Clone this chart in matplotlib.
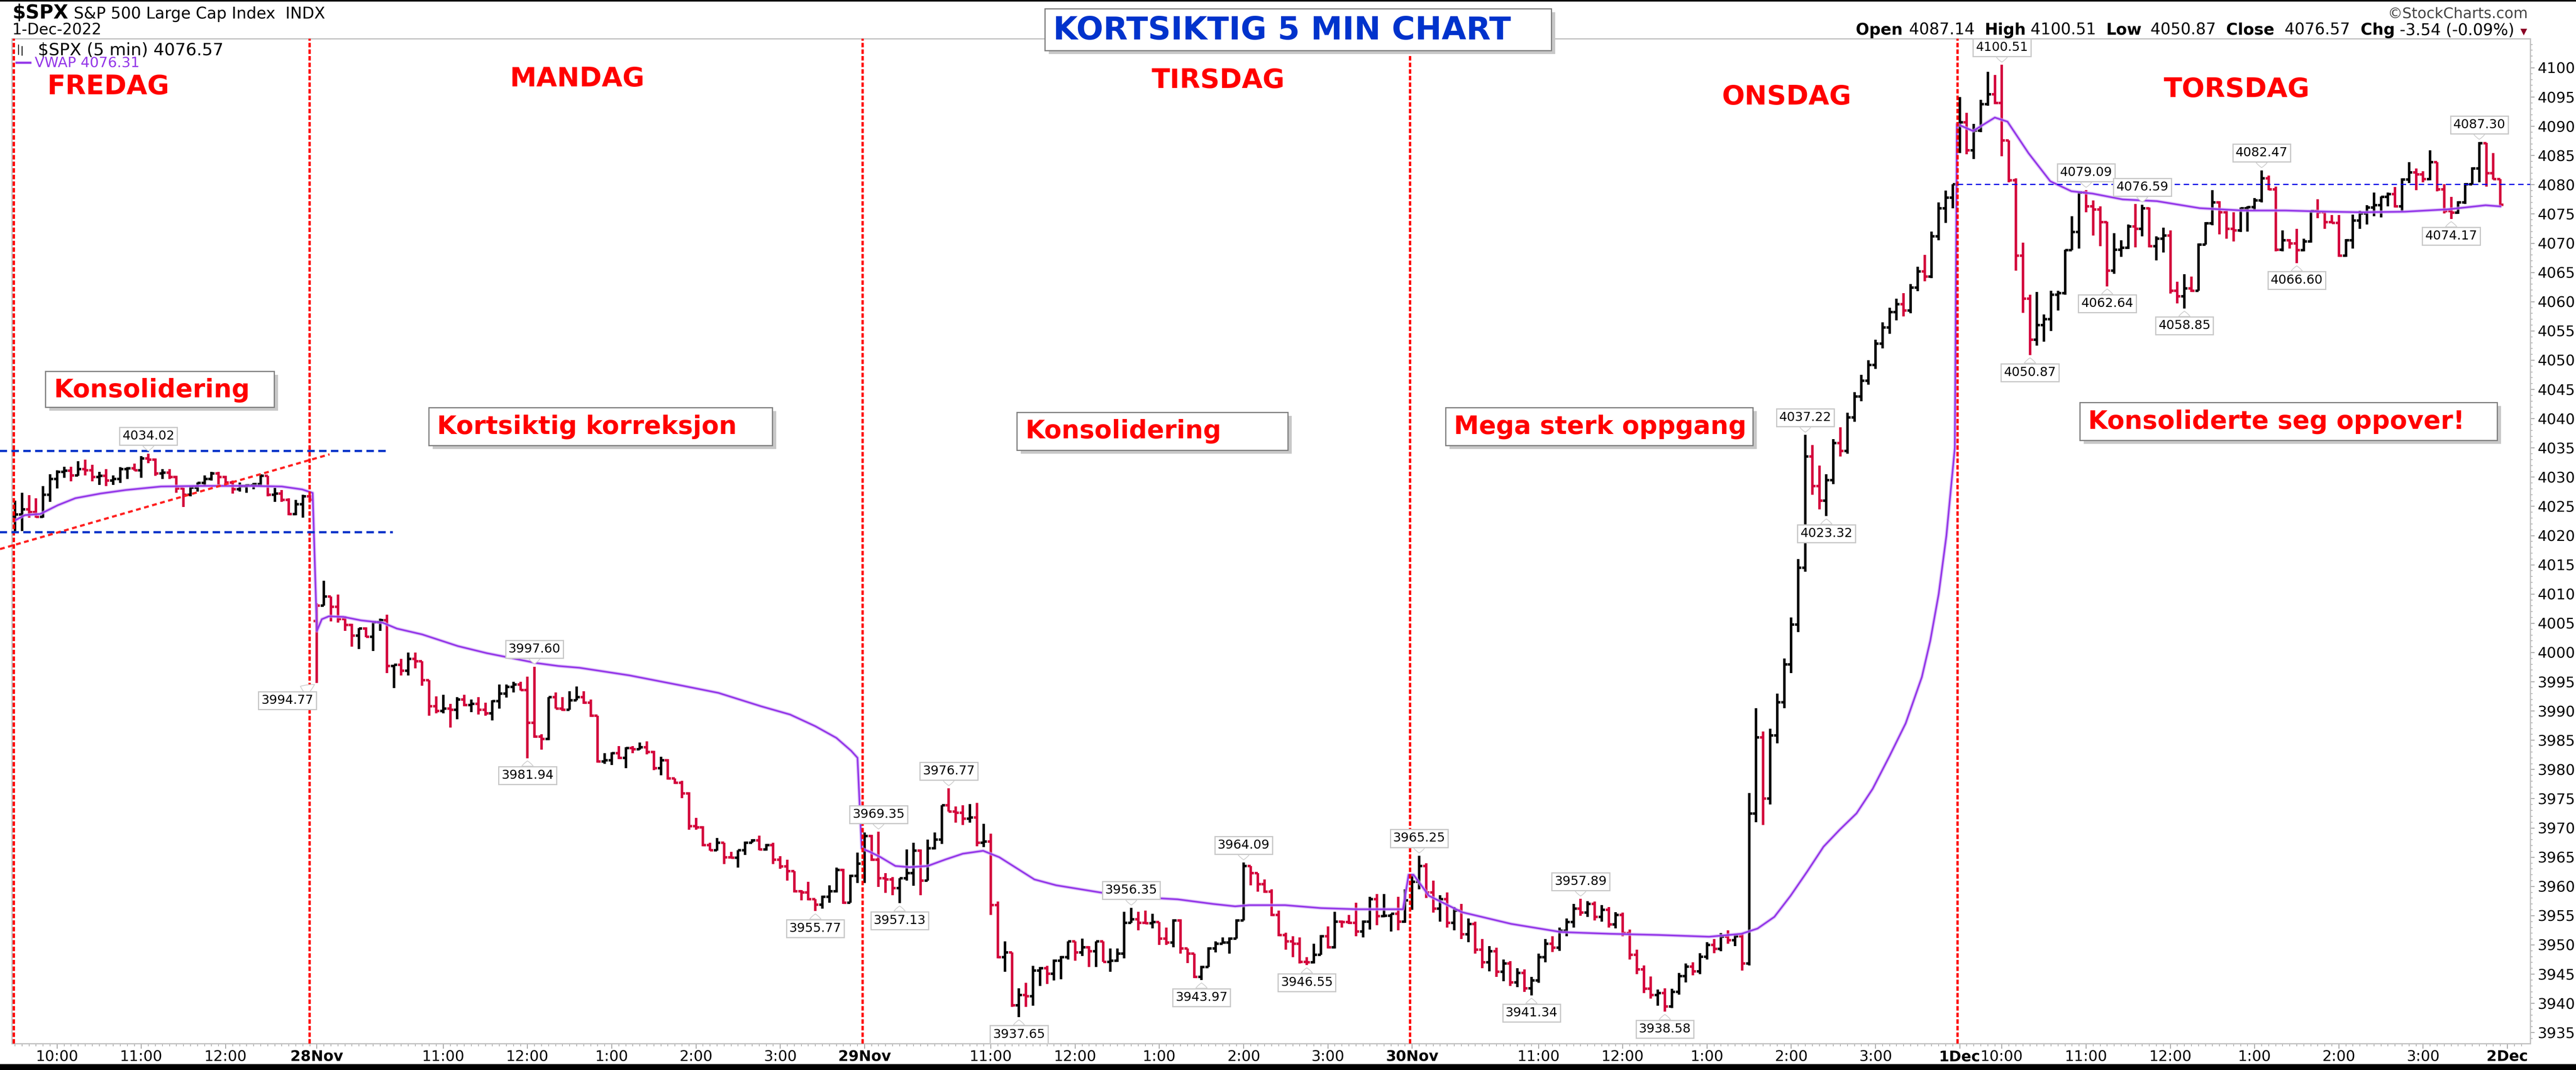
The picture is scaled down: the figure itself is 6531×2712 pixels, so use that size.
import matplotlib
matplotlib.use("Agg")
import matplotlib.pyplot as plt
from matplotlib.collections import LineCollection
from matplotlib.patches import Rectangle
from matplotlib.lines import Line2D
from matplotlib.ticker import FixedLocator, MultipleLocator, FormatStrFormatter

W, H = 6531, 2712

''' 5 min OHLC bars, one set of lists per day '''
# Friday 25 Nov (half day)
fri_o = [4023.3, 4023.6, 4024.5, 4024.0, 4023.2, 4027.0, 4029.7, 4030.9, 4031.1, 4030.3, 4031.4, 4031.2, 4030.0, 4030.2, 4029.4,
         4029.7, 4031.4, 4031.5, 4031.2, 4033.2, 4033.0, 4030.6, 4030.8, 4030.0, 4028.1, 4027.0, 4028.2, 4029.0, 4029.7, 4030.6,
         4030.0, 4029.1, 4027.9, 4028.5, 4028.6, 4028.8, 4030.2, 4027.0, 4027.2, 4026.1, 4023.7, 4025.4, 4026.7]
fri_h = [4026.0, 4027.3, 4026.9, 4026.4, 4028.5, 4030.5, 4031.2, 4031.8, 4031.8, 4032.7, 4033.0, 4032.1, 4030.9, 4031.4, 4030.3,
         4031.7, 4031.7, 4032.3, 4033.6, 4034.02, 4033.2, 4031.4, 4031.4, 4030.2, 4028.2, 4028.5, 4029.1, 4030.3, 4030.9, 4030.9,
         4030.2, 4029.4, 4029.1, 4028.8, 4029.0, 4030.5, 4030.2, 4028.2, 4027.8, 4026.4, 4026.1, 4027.0, 4026.9]
fri_l = [4020.76, 4020.8, 4023.1, 4023.1, 4023.1, 4025.8, 4028.1, 4029.9, 4029.3, 4030.2, 4030.3, 4029.3, 4028.7, 4028.5, 4028.7,
         4029.0, 4029.7, 4031.1, 4029.9, 4032.4, 4030.2, 4029.7, 4029.7, 4027.3, 4024.9, 4026.7, 4027.5, 4028.5, 4029.4, 4028.5,
         4028.5, 4027.2, 4027.5, 4027.3, 4027.9, 4028.5, 4026.7, 4025.8, 4025.8, 4023.5, 4023.5, 4023.1, 4026.1]
fri_c = [4023.6, 4024.5, 4024.0, 4023.2, 4027.0, 4029.7, 4030.9, 4031.1, 4030.3, 4031.4, 4031.2, 4030.0, 4030.2, 4029.4, 4029.7,
         4031.4, 4031.5, 4031.2, 4033.2, 4033.0, 4030.6, 4030.8, 4030.0, 4028.1, 4027.0, 4028.2, 4029.0, 4029.7, 4030.6, 4030.0,
         4029.1, 4027.9, 4028.5, 4028.6, 4028.8, 4030.2, 4027.0, 4027.2, 4026.1, 4023.7, 4025.4, 4026.7, 4026.1]

# Monday 28 Nov
mon_o = [4005.4, 4008.0, 4009.6, 4007.8, 4005.7, 4004.7, 4002.9, 4004.1, 4002.7, 4005.2, 4005.5, 3997.7, 3997.9, 3996.9, 3998.9,
         3998.5, 3995.3, 3990.8, 3990.0, 3990.4, 3990.2, 3992.0, 3991.0, 3991.2, 3990.2, 3989.6, 3991.7, 3993.0, 3994.1, 3994.5,
         3993.6, 3988.0, 3985.6, 3985.2, 3992.4, 3990.4, 3990.2, 3991.8, 3992.4, 3991.4, 3989.2, 3981.4, 3981.6, 3982.8, 3982.0,
         3983.7, 3983.5, 3983.8, 3983.0, 3980.2, 3981.6, 3978.5, 3977.7, 3975.9, 3970.3, 3970.1, 3967.1, 3966.2, 3967.5, 3965.0,
         3964.9, 3966.2, 3967.5, 3967.9, 3966.3, 3967.1, 3964.6, 3963.4, 3962.6, 3959.2, 3959.0, 3957.8, 3956.9, 3958.2, 3959.2,
         3962.8, 3957.2, 3961.8]
mon_h = [4008.4, 4012.3, 4009.6, 4009.9, 4006.2, 4004.9, 4004.2, 4004.3, 4005.3, 4005.8, 4006.5, 3997.9, 3998.9, 4000.0, 4000.0,
         3998.5, 3995.3, 3992.5, 3992.8, 3991.2, 3992.4, 3992.8, 3992.0, 3992.4, 3991.4, 3991.8, 3994.5, 3994.5, 3995.0, 3995.0,
         3995.9, 3997.6, 3986.0, 3992.4, 3993.2, 3992.4, 3993.4, 3994.2, 3993.4, 3992.0, 3989.2, 3982.8, 3982.9, 3984.0, 3983.8,
         3984.0, 3984.6, 3984.8, 3983.2, 3982.2, 3981.8, 3978.5, 3978.1, 3976.1, 3971.7, 3970.3, 3967.5, 3968.3, 3967.5, 3965.9,
         3966.2, 3967.7, 3968.1, 3968.7, 3967.3, 3967.5, 3965.2, 3964.6, 3962.6, 3959.4, 3960.8, 3957.8, 3958.4, 3960.2, 3963.2,
         3963.0, 3962.0, 3965.8]
mon_l = [3994.77, 4008.0, 4005.3, 4005.1, 4003.7, 4001.0, 4000.6, 4002.6, 4000.3, 4003.7, 3996.5, 3993.9, 3996.1, 3996.1, 3997.3,
         3994.3, 3989.2, 3989.6, 3989.6, 3987.2, 3988.6, 3990.8, 3989.8, 3989.4, 3989.2, 3988.4, 3990.4, 3992.3, 3993.2, 3993.5,
         3981.94, 3985.4, 3983.4, 3985.0, 3990.4, 3990.0, 3990.2, 3991.8, 3991.2, 3989.0, 3981.2, 3981.0, 3980.8, 3981.8, 3980.2,
         3982.8, 3983.4, 3982.6, 3979.9, 3979.0, 3978.3, 3977.5, 3975.1, 3969.7, 3969.7, 3966.9, 3966.1, 3966.1, 3963.8, 3964.8,
         3963.2, 3965.4, 3967.5, 3966.2, 3966.1, 3963.8, 3963.0, 3961.0, 3959.0, 3957.6, 3957.6, 3955.77, 3956.2, 3957.2, 3959.0,
         3957.0, 3957.2, 3960.6]
mon_c = [4008.0, 4009.6, 4007.8, 4005.7, 4004.7, 4002.9, 4004.1, 4002.7, 4005.2, 4005.5, 3997.7, 3997.9, 3996.9, 3998.9, 3998.5,
         3995.3, 3990.8, 3990.0, 3990.4, 3990.2, 3992.0, 3991.0, 3991.2, 3990.2, 3989.6, 3991.7, 3993.0, 3994.1, 3994.5, 3993.6,
         3988.0, 3985.6, 3985.2, 3992.4, 3990.4, 3990.2, 3991.8, 3992.4, 3991.4, 3989.2, 3981.4, 3981.6, 3982.8, 3982.0, 3983.7,
         3983.5, 3983.8, 3983.0, 3980.2, 3981.6, 3978.5, 3977.7, 3975.9, 3970.3, 3970.1, 3967.1, 3966.2, 3967.5, 3965.0, 3964.9,
         3966.2, 3967.5, 3967.9, 3966.3, 3967.1, 3964.6, 3963.4, 3962.6, 3959.2, 3959.0, 3957.8, 3956.9, 3958.2, 3959.2, 3962.8,
         3957.2, 3961.8, 3963.9]

# Tuesday 29 Nov
tue_o = [3964.2, 3968.6, 3964.6, 3961.4, 3961.2, 3959.7, 3961.4, 3962.3, 3966.1, 3961.0, 3966.5, 3968.0, 3973.9, 3972.8, 3972.6,
         3971.6, 3971.8, 3967.5, 3967.7, 3956.8, 3947.9, 3948.7, 3939.7, 3941.4, 3941.2, 3945.6, 3946.0, 3945.1, 3947.3, 3947.9,
         3950.6, 3948.7, 3949.6, 3948.9, 3950.6, 3947.1, 3947.3, 3948.5, 3953.8, 3954.4, 3953.8, 3953.7, 3953.9, 3951.1, 3950.4,
         3954.2, 3949.4, 3948.5, 3944.5, 3946.2, 3949.4, 3950.2, 3950.4, 3951.1, 3954.2, 3963.5, 3962.3, 3960.4, 3959.1, 3955.1,
         3951.7, 3950.6, 3950.2, 3947.1, 3947.0, 3948.3, 3951.5, 3949.6, 3954.0, 3953.9, 3953.8, 3952.3, 3954.0, 3957.8, 3954.9,
         3955.0, 3955.3, 3954.0]
tue_h = [3969.2, 3968.8, 3969.35, 3962.3, 3961.6, 3961.4, 3966.3, 3967.5, 3966.3, 3968.0, 3969.2, 3973.9, 3976.77, 3973.7, 3973.9,
         3974.1, 3974.3, 3970.7, 3969.0, 3957.4, 3950.6, 3948.7, 3942.6, 3943.5, 3946.4, 3946.2, 3946.4, 3947.5, 3948.1, 3950.6,
         3950.6, 3951.1, 3949.8, 3950.6, 3950.6, 3949.4, 3949.4, 3955.7, 3956.35, 3955.7, 3955.9, 3955.3, 3953.9, 3953.0, 3954.4,
         3954.4, 3949.4, 3948.5, 3946.4, 3949.6, 3950.6, 3951.3, 3951.3, 3954.4, 3964.09, 3963.5, 3962.3, 3961.2, 3959.5, 3955.9,
         3952.1, 3951.5, 3951.3, 3947.9, 3950.2, 3951.7, 3953.2, 3955.7, 3954.2, 3955.1, 3957.2, 3954.2, 3958.2, 3958.7, 3958.7,
         3955.3, 3958.2, 3959.5]
tue_l = [3960.6, 3964.4, 3959.9, 3958.9, 3958.5, 3957.13, 3961.0, 3960.1, 3958.5, 3961.0, 3966.3, 3967.3, 3972.8, 3970.9, 3970.5,
         3970.9, 3966.9, 3966.7, 3955.1, 3947.7, 3945.4, 3939.4, 3937.65, 3939.4, 3939.6, 3943.0, 3943.3, 3943.9, 3944.1, 3947.5,
         3947.3, 3948.1, 3946.2, 3946.2, 3947.1, 3945.4, 3947.1, 3947.7, 3953.8, 3952.5, 3953.6, 3952.8, 3950.0, 3950.0, 3949.6,
         3948.5, 3946.9, 3944.3, 3943.97, 3946.2, 3948.7, 3950.2, 3948.5, 3951.1, 3954.2, 3960.2, 3959.1, 3958.9, 3954.9, 3951.5,
         3949.2, 3947.9, 3946.8, 3946.55, 3946.8, 3948.3, 3949.4, 3949.4, 3953.0, 3953.6, 3951.5, 3951.3, 3952.6, 3953.4, 3954.7,
         3952.3, 3952.5, 3953.8]
tue_c = [3968.6, 3964.6, 3961.4, 3961.2, 3959.7, 3961.4, 3962.3, 3966.1, 3961.0, 3966.5, 3968.0, 3973.9, 3972.8, 3972.6, 3971.6,
         3971.8, 3967.5, 3967.7, 3956.8, 3947.9, 3948.7, 3939.7, 3941.4, 3941.2, 3945.6, 3946.0, 3945.1, 3947.3, 3947.9, 3950.6,
         3948.7, 3949.6, 3948.9, 3950.6, 3947.1, 3947.3, 3948.5, 3953.8, 3954.4, 3953.8, 3953.7, 3953.9, 3951.1, 3950.4, 3954.2,
         3949.4, 3948.5, 3944.5, 3946.2, 3949.4, 3950.2, 3950.4, 3951.1, 3954.2, 3963.5, 3962.3, 3960.4, 3959.1, 3955.1, 3951.7,
         3950.6, 3950.2, 3947.1, 3947.0, 3948.3, 3951.5, 3949.6, 3954.0, 3953.9, 3953.8, 3952.3, 3954.0, 3957.8, 3954.9, 3955.0,
         3955.3, 3954.0, 3957.6]

# Wednesday 30 Nov
wed_o = [3957.2, 3960.8, 3963.5, 3959.0, 3956.2, 3957.8, 3953.8, 3955.9, 3951.8, 3953.6, 3949.2, 3947.0, 3948.9, 3945.4, 3946.8,
         3943.6, 3945.2, 3942.6, 3943.9, 3947.9, 3950.2, 3949.5, 3952.4, 3953.9, 3956.2, 3955.5, 3957.0, 3954.8, 3956.0, 3953.5,
         3955.1, 3952.0, 3948.3, 3945.8, 3942.5, 3941.4, 3941.8, 3939.5, 3942.0, 3944.7, 3946.3, 3945.5, 3948.0, 3950.0, 3949.3,
         3951.4, 3950.8, 3951.5, 3946.8, 3972.5, 3985.5, 3975.0, 3985.8, 3991.5, 3998.0, 4004.8, 4014.5, 4033.5, 4028.5, 4026.0,
         4029.5, 4035.8, 4034.5, 4040.2, 4043.8, 4046.5, 4049.2, 4052.8, 4055.6, 4058.2, 4059.6, 4058.5, 4062.4, 4065.2, 4064.3,
         4071.2, 4076.0, 4077.8]
wed_h = [3962.0, 3965.25, 3964.0, 3961.0, 3958.5, 3959.0, 3956.5, 3957.0, 3954.5, 3954.0, 3951.0, 3949.8, 3949.5, 3947.5, 3947.2,
         3946.0, 3945.8, 3944.5, 3948.5, 3951.0, 3951.5, 3953.0, 3954.5, 3957.0, 3957.89, 3957.5, 3957.4, 3956.8, 3956.5, 3955.6,
         3955.5, 3952.6, 3949.2, 3946.5, 3944.6, 3942.4, 3942.6, 3942.5, 3945.2, 3946.8, 3947.0, 3948.6, 3950.5, 3951.0, 3952.0,
         3952.5, 3951.9, 3952.0, 3976.0, 3990.5, 3986.5, 3987.0, 3993.0, 3999.0, 4006.0, 4016.0, 4037.22, 4035.5, 4032.0, 4030.5,
         4036.5, 4038.5, 4041.0, 4044.5, 4047.5, 4050.0, 4053.5, 4056.5, 4059.0, 4060.5, 4061.5, 4063.0, 4066.0, 4068.0, 4072.0,
         4077.0, 4079.0, 4080.11]
wed_l = [3956.0, 3959.5, 3958.0, 3955.5, 3954.0, 3953.0, 3952.5, 3951.0, 3950.5, 3948.5, 3946.0, 3945.5, 3944.5, 3943.8, 3943.0,
         3942.8, 3942.0, 3941.34, 3943.5, 3947.0, 3948.8, 3949.0, 3951.5, 3953.0, 3955.0, 3954.8, 3954.2, 3954.0, 3953.0, 3952.8,
         3951.5, 3947.5, 3945.0, 3941.8, 3940.8, 3939.6, 3938.58, 3939.2, 3941.5, 3943.6, 3944.8, 3945.0, 3947.5, 3948.6, 3948.9,
         3950.2, 3949.8, 3945.6, 3946.5, 3971.0, 3970.5, 3974.0, 3984.5, 3990.5, 3996.5, 4003.5, 4013.8, 4027.0, 4024.5, 4023.32,
         4028.8, 4033.5, 4034.0, 4039.5, 4043.0, 4045.8, 4048.5, 4052.0, 4054.5, 4056.8, 4057.5, 4058.0, 4061.8, 4063.5, 4064.0,
         4070.5, 4073.5, 4076.0]
wed_c = [3960.8, 3963.5, 3959.0, 3956.2, 3957.8, 3953.8, 3955.9, 3951.8, 3953.6, 3949.2, 3947.0, 3948.9, 3945.4, 3946.8, 3943.6,
         3945.2, 3942.6, 3943.9, 3947.9, 3950.2, 3949.5, 3952.4, 3953.9, 3956.2, 3955.5, 3957.0, 3954.8, 3956.0, 3953.5, 3955.1,
         3952.0, 3948.3, 3945.8, 3942.5, 3941.4, 3941.8, 3939.5, 3942.0, 3944.7, 3946.3, 3945.5, 3948.0, 3950.0, 3949.3, 3951.4,
         3950.8, 3951.5, 3946.8, 3972.5, 3985.5, 3975.0, 3985.8, 3991.5, 3998.0, 4004.8, 4014.5, 4033.5, 4028.5, 4026.0, 4029.5,
         4035.8, 4034.5, 4040.2, 4043.8, 4046.5, 4049.2, 4052.8, 4055.6, 4058.2, 4059.6, 4058.5, 4062.4, 4065.2, 4064.3, 4071.2,
         4076.0, 4077.8, 4080.11]

# Thursday 1 Dec
thu_o = [4087.14, 4090.7, 4085.9, 4089.3, 4093.8, 4095.5, 4094.0, 4087.6, 4080.8, 4067.9, 4060.5, 4053.5, 4056.0, 4057.0, 4061.2,
         4061.5, 4068.8, 4071.9, 4078.7, 4076.3, 4075.8, 4073.6, 4065.3, 4068.9, 4069.2, 4072.9, 4072.5, 4075.97, 4069.5, 4070.8,
         4071.3, 4061.9, 4060.9, 4062.3, 4061.9, 4069.8, 4073.4, 4077.0, 4075.3, 4072.5, 4072.2, 4076.0, 4076.2, 4077.3, 4081.1,
         4079.2, 4068.9, 4070.5, 4070.0, 4068.8, 4070.3, 4075.5, 4075.3, 4073.6, 4073.5, 4067.9, 4070.5, 4073.9, 4075.1, 4076.1,
         4076.5, 4077.9, 4078.4, 4076.3, 4080.9, 4082.1, 4081.8, 4081.0, 4083.9, 4079.2, 4075.5, 4075.2, 4077.0, 4080.1, 4082.8,
         4087.1, 4082.0, 4081.0]
thu_h = [4095.0, 4092.3, 4090.4, 4094.5, 4099.3, 4098.8, 4100.51, 4087.6, 4081.1, 4070.1, 4061.2, 4061.7, 4057.8, 4061.9, 4061.9,
         4068.9, 4074.6, 4078.9, 4079.09, 4077.3, 4076.3, 4073.7, 4071.7, 4070.5, 4073.2, 4076.7, 4076.59, 4076.1, 4071.2, 4072.7,
         4072.2, 4063.4, 4064.7, 4064.3, 4070.0, 4073.6, 4079.1, 4077.2, 4075.6, 4075.3, 4076.1, 4076.3, 4077.7, 4082.47, 4081.6,
         4079.7, 4072.2, 4070.7, 4072.5, 4070.8, 4075.6, 4077.5, 4075.5, 4074.8, 4074.8, 4070.7, 4074.9, 4075.6, 4076.5, 4078.7,
         4078.0, 4078.7, 4079.6, 4081.1, 4083.9, 4082.8, 4082.3, 4085.9, 4083.9, 4080.1, 4077.9, 4077.2, 4080.3, 4083.0, 4087.30,
         4087.2, 4085.4, 4081.0]
thu_l = [4085.4, 4085.2, 4084.4, 4089.0, 4093.5, 4093.8, 4084.9, 4080.4, 4065.3, 4058.1, 4050.87, 4052.5, 4053.2, 4055.0, 4058.5,
         4061.2, 4068.8, 4069.1, 4075.3, 4071.3, 4069.5, 4062.64, 4064.8, 4067.7, 4069.0, 4069.3, 4071.2, 4069.3, 4067.1, 4068.4,
         4061.4, 4059.7, 4058.85, 4061.7, 4061.9, 4069.8, 4073.1, 4071.5, 4070.8, 4070.3, 4071.9, 4072.0, 4075.6, 4077.0, 4079.1,
         4068.6, 4068.6, 4069.1, 4066.60, 4068.6, 4070.1, 4074.3, 4072.5, 4073.4, 4067.7, 4067.7, 4069.1, 4072.5, 4073.2, 4074.6,
         4074.4, 4076.3, 4076.1, 4075.3, 4080.3, 4079.1, 4080.4, 4080.8, 4078.9, 4075.1, 4074.17, 4075.0, 4076.7, 4080.0, 4080.4,
         4079.7, 4080.9, 4076.3]
thu_c = [4090.7, 4085.9, 4089.3, 4093.8, 4095.5, 4094.0, 4087.6, 4080.8, 4067.9, 4060.5, 4053.5, 4056.0, 4057.0, 4061.2, 4061.5,
         4068.8, 4071.9, 4078.7, 4076.3, 4075.8, 4073.6, 4065.3, 4068.9, 4069.2, 4072.9, 4072.5, 4075.97, 4069.5, 4070.8, 4071.3,
         4061.9, 4060.9, 4062.3, 4061.9, 4069.8, 4073.4, 4077.0, 4075.3, 4072.5, 4072.2, 4076.0, 4076.2, 4077.3, 4081.1, 4079.2,
         4068.9, 4070.5, 4070.0, 4068.8, 4070.3, 4075.5, 4075.3, 4073.6, 4073.5, 4067.9, 4070.5, 4073.9, 4075.1, 4076.1, 4076.5,
         4077.9, 4078.4, 4076.3, 4080.9, 4082.1, 4081.8, 4081.0, 4083.9, 4079.2, 4075.5, 4075.2, 4077.0, 4080.1, 4082.8, 4087.1,
         4082.0, 4081.0, 4076.57]

# first bar slot of each day
day_start = [0, 43, 121, 199, 277]

''' VWAP (resets each day) '''
vwap_slot = [0, 1.4, 3.6, 6.1, 8.6, 12.2, 15.8, 20.8, 26.5, 33.7, 38.0, 40.9, 42.4,
             43.0, 43.7, 44.7, 46.8, 49.3, 52.4, 54.4, 58.0, 63.1, 67.2, 69.7, 74.3, 77.4, 80.4, 87.5, 95.2, 100.2, 106.3,
             110.4, 114.0, 117.0, 119.1, 120.0,
             120.6, 121.8, 123.3, 125.4, 127.4, 130.0, 132.5, 135.0, 137.9, 140.2, 142.7, 145.2, 148.3, 152.9, 158.0, 165.6,
             170.7, 173.8, 175.8, 180.9, 186.0, 191.1, 197.7,
             198.5, 199.2, 201.4, 206.1, 213.1, 220.2, 227.2, 234.2, 241.3, 245.9, 248.2, 250.6, 252.9, 255.3, 257.6, 259.9,
             262.3, 264.6, 267.0, 269.3, 271.6, 272.8, 274.0, 275.1, 276.3,
             276.6, 278.9, 282.0, 283.8, 286.8, 289.9, 292.9, 295.9, 300.2, 305.1, 311.2, 317.3, 323.4, 329.5, 334.3, 340.4,
             346.5, 351.9, 354.0]
vwap_val = [4022.6, 4023.5, 4023.7, 4025.2, 4026.4, 4027.2, 4027.8, 4028.4, 4028.5, 4028.5, 4028.4, 4027.9, 4027.3,
            4003.7, 4005.7, 4006.2, 4006.1, 4005.5, 4005.1, 4004.1, 4003.1, 4001.1, 3999.9, 3999.3, 3998.2, 3997.7, 3997.4,
            3996.1, 3994.3, 3993.1, 3990.8, 3989.4, 3987.4, 3985.4, 3983.2, 3982.0,
            3966.5, 3965.9, 3965.0, 3963.5, 3963.3, 3963.5, 3964.6, 3965.6, 3966.1, 3965.0, 3963.1, 3961.2, 3960.2, 3959.3,
            3958.3, 3957.8, 3957.0, 3956.6, 3956.8, 3956.8, 3956.3, 3956.1, 3956.1,
            3962.0, 3962.0, 3958.4, 3955.6, 3953.6, 3952.2, 3951.9, 3951.7, 3951.4, 3951.9, 3952.8, 3954.8, 3958.4, 3962.6,
            3966.8, 3969.7, 3972.5, 3976.7, 3982.3, 3987.9, 3995.8, 4002.0, 4010.0, 4020.0, 4035.0,
            4090.4, 4089.2, 4091.5, 4090.8, 4085.4, 4080.6, 4078.9, 4078.5, 4077.5, 4077.2, 4076.0, 4075.6, 4075.6, 4075.4,
            4075.3, 4075.4, 4075.8, 4076.5, 4076.3]

''' Drawn levels and labels '''
range_high, range_low = 4034.5, 4020.6
range_end = [52.9, 53.8]
trend_slot = [-2.13, 44.8]
trend_val = [4017.7, 4033.9]
wed_close = 4080.11
separators = [-0.17, 41.95, 120.75, 198.7, 276.7]

# (bar slot, price, above?, x shift in px)
price_labels = [
    (19, 4034.02, True, 0),
    (43, 3994.77, False, -75), (73, 3981.94, False, 0), (74, 3997.60, True, 0), (114, 3955.77, False, 0),
    (123, 3969.35, True, 0), (126, 3957.13, False, 0), (133, 3976.77, True, 0), (143, 3937.65, False, 0),
    (159, 3956.35, True, 0), (169, 3943.97, False, 0), (175, 3964.09, True, 0), (184, 3946.55, False, 0),
    (200, 3965.25, True, 0), (216, 3941.34, False, 0), (223, 3957.89, True, 0), (235, 3938.58, False, 0),
    (255, 4037.22, True, 0), (258, 4023.32, False, 0),
    (283, 4100.51, True, 0), (287, 4050.87, False, 0), (295, 4079.09, True, 0), (298, 4062.64, False, 0),
    (303, 4076.59, True, 0), (309, 4058.85, False, 0), (320, 4082.47, True, 0), (325, 4066.60, False, 0),
    (347, 4074.17, False, 0), (351, 4087.30, True, 0),
]

hour_ticks = [6, 18, 30, 43, 61, 73, 85, 97, 109, 121, 139, 151, 163, 175, 187, 199, 217, 229, 241, 253, 265,
              277, 283, 295, 307, 319, 331, 343, 355]
hour_labels = ["10:00", "11:00", "12:00", "28Nov", "11:00", "12:00", "1:00", "2:00", "3:00", "29Nov",
               "11:00", "12:00", "1:00", "2:00", "3:00", "30Nov", "11:00", "12:00", "1:00", "2:00", "3:00",
               "1Dec", "10:00", "11:00", "12:00", "1:00", "2:00", "3:00", "2Dec"]

RED = "#d3003b"
PURPLE = "#9437e8"

''' Figure '''
fig = plt.figure(figsize=(W / 100, H / 100), dpi=100)
fig.patch.set_facecolor("white")
ax = fig.add_axes([30 / W, 1 - 2645 / H, (6415 - 30) / W, (2645 - 98) / H])
ax.set_xlim(-0.45, 358.26)
ax.set_ylim(3933.13, 4104.99)

# OHLC bars, black when the close is up from the bar before, red when down
segs, cols = [], []
prev = None
days = [(fri_o, fri_h, fri_l, fri_c), (mon_o, mon_h, mon_l, mon_c), (tue_o, tue_h, tue_l, tue_c),
        (wed_o, wed_h, wed_l, wed_c), (thu_o, thu_h, thu_l, thu_c)]
for start, (o, h, l, c) in zip(day_start, days):
    for k in range(len(c)):
        x = start + k
        ref = o[k] if prev is None else prev
        col = "black" if c[k] >= ref else RED
        segs += [[(x, l[k]), (x, h[k])], [(x - 0.45, o[k]), (x, o[k])], [(x, c[k]), (x + 0.45, c[k])]]
        cols += [col] * 3
        prev = c[k]
ax.add_collection(LineCollection(segs, colors=cols, linewidths=4.6, capstyle="butt", zorder=2))

# VWAP
ax.plot(vwap_slot, vwap_val, color="#cfa8f7", lw=6.5, alpha=0.6, zorder=3, solid_capstyle="round")
ax.plot(vwap_slot, vwap_val, color=PURPLE, lw=3.0, zorder=3)

# day separators
for s in separators:
    ax.axvline(s, color="#ff0000", lw=4.3, ls=(0, (1.9, 0.9)), zorder=4)

# friday range and trend line, wednesday close level
ax.plot([-2.2, range_end[0]], [range_high, range_high], color="#0030c8", lw=4.0, ls=(0, (3.4, 2.0)),
        clip_on=False, zorder=4)
ax.plot([-2.2, range_end[1]], [range_low, range_low], color="#0030c8", lw=4.0, ls=(0, (3.4, 2.0)),
        clip_on=False, zorder=4)
ax.plot(trend_slot, trend_val, color="#ff2020", lw=4.0, ls=(0, (2.2, 1.6)), clip_on=False, zorder=4)
ax.plot([276.7, 358.26], [wed_close, wed_close], color="#0000e6", lw=2.2, ls=(0, (4.5, 3.0)), zorder=4)

# price labels
for s, p, up, dx in price_labels:
    ax.annotate(f"{p:.2f}", xy=(s, p), xytext=(dx, 44 if up else -44), textcoords="offset pixels",
                ha="center", va="center", fontsize=23, zorder=6,
                bbox=dict(boxstyle="square,pad=0.22", fc="white", ec="#c8c8c8", lw=2.2),
                arrowprops=dict(arrowstyle="wedge,tail_width=0.9,shrink_factor=0.6", fc="white", ec="#d0d0d0",
                                lw=1.5, shrinkA=0, shrinkB=5))

# axes styling
for sp in ax.spines.values():
    sp.set_color("#c0c0c0")
    sp.set_linewidth(2.2)
ax.yaxis.tick_right()
ax.yaxis.set_major_locator(MultipleLocator(5))
ax.yaxis.set_minor_locator(MultipleLocator(1))
ax.yaxis.set_major_formatter(FormatStrFormatter("%d"))
ax.tick_params(axis="y", which="major", length=8, width=1.6, color="#a0a0a0", labelsize=27, pad=5)
ax.tick_params(axis="y", which="minor", length=4, width=1.2, color="#a0a0a0")
ax.xaxis.set_major_locator(FixedLocator(hour_ticks))
ax.xaxis.set_minor_locator(FixedLocator(range(0, 358)))
ax.set_xticklabels(hour_labels)
ax.tick_params(axis="x", which="major", length=9, width=1.6, color="#a0a0a0", labelsize=27, pad=3)
ax.tick_params(axis="x", which="minor", length=5, width=1.2, color="#a0a0a0")
for t in ax.get_xticklabels():
    if not t.get_text().endswith("00"):
        t.set_fontweight("bold")


def fxy(x, y):
    return x / W, 1 - y / H


def box(x0, y0, x1, y1, lw=2.2, shadow=(10, 9)):
    fig.add_artist(Rectangle(fxy(x0 + shadow[0], y1 + shadow[1]), (x1 - x0) / W, (y1 - y0) / H,
                             transform=fig.transFigure, fc="#c8c8c8", ec="none", zorder=5))
    fig.add_artist(Rectangle(fxy(x0, y1), (x1 - x0) / W, (y1 - y0) / H, transform=fig.transFigure,
                             fc="white", ec="#808080", lw=lw, zorder=6))


# header
fig.text(*fxy(31, 47), "$SPX", fontsize=35, fontweight="bold", va="baseline")
fig.text(*fxy(187, 47), "S&P 500 Large Cap Index  INDX", fontsize=29, va="baseline")
fig.text(*fxy(31, 88), "1-Dec-2022", fontsize=28, va="baseline")
fig.text(*fxy(6410, 45), "\u00a9StockCharts.com", fontsize=27, ha="right", va="baseline", color="#444444")
ohlc_parts = [(4705, "Open", True), (4840, "4087.14", False), (5031, "High", True), (5148, "4100.51", False),
              (5339, "Low", True), (5452, "4050.87", False), (5644, "Close", True), (5792, "4076.57", False),
              (5985, "Chg", True), (6084, "-3.54 (-0.09%)", False)]
for x, s, b in ohlc_parts:
    fig.text(*fxy(x, 88), s, fontsize=29, fontweight="bold" if b else "normal", va="baseline")
fig.text(*fxy(6398, 80), "\u25bc", fontsize=16, color="#8b0024", ha="center", va="center")

# legend inside the chart
for xx, y0, y1 in [(47, 114, 138), (56, 118, 140)]:
    fig.add_artist(Line2D([xx / W, xx / W], [1 - y0 / H, 1 - y1 / H], color="black", lw=1.6, zorder=7))
fig.text(*fxy(96, 127), "$SPX (5 min) 4076.57", fontsize=31, va="center", zorder=7)
fig.add_artist(Line2D([42 / W, 77 / W], [1 - 159 / H, 1 - 159 / H], color=PURPLE, lw=4, zorder=7))
fig.text(*fxy(88, 160), "VWAP 4076.31", fontsize=26, va="center", color=PURPLE, zorder=7)

# day names
for x, y, s in [(275, 220, "FREDAG"), (1464, 200, "MANDAG"), (3088, 204, "TIRSDAG"), (4530, 246, "ONSDAG"),
                (5671, 227, "TORSDAG")]:
    fig.text(*fxy(x, y), s, fontsize=49, fontweight="bold", color="#ff0000", ha="center", va="center", zorder=7)

# title box
box(2649, 22, 3933, 128)
fig.text(*fxy(2670, 100), "KORTSIKTIG 5 MIN CHART", fontsize=58, fontweight="bold", color="#0033cc",
         va="baseline", zorder=7)

# comment boxes
for x0, y0, x1, y1, s in [(115, 941, 695, 1032, "Konsolidering"),
                          (1087, 1033, 1958, 1129, "Kortsiktig korreksjon"),
                          (2578, 1045, 3265, 1141, "Konsolidering"),
                          (3665, 1033, 4444, 1129, "Mega sterk oppgang"),
                          (5273, 1020, 6331, 1116, "Konsoliderte seg oppover!")]:
    box(x0, y0, x1, y1)
    fig.text(*fxy(x0 + 21, y0 + 66), s, fontsize=46, fontweight="bold", color="#ff0000", va="baseline", zorder=7)

# black frame strips
fig.add_artist(Rectangle((0, 1 - 4 / H), 1, 4 / H, transform=fig.transFigure, fc="black", ec="none", zorder=8))
fig.add_artist(Rectangle((0, 0), 1, 15 / H, transform=fig.transFigure, fc="black", ec="none", zorder=8))

plt.savefig("out.png", dpi=100)
